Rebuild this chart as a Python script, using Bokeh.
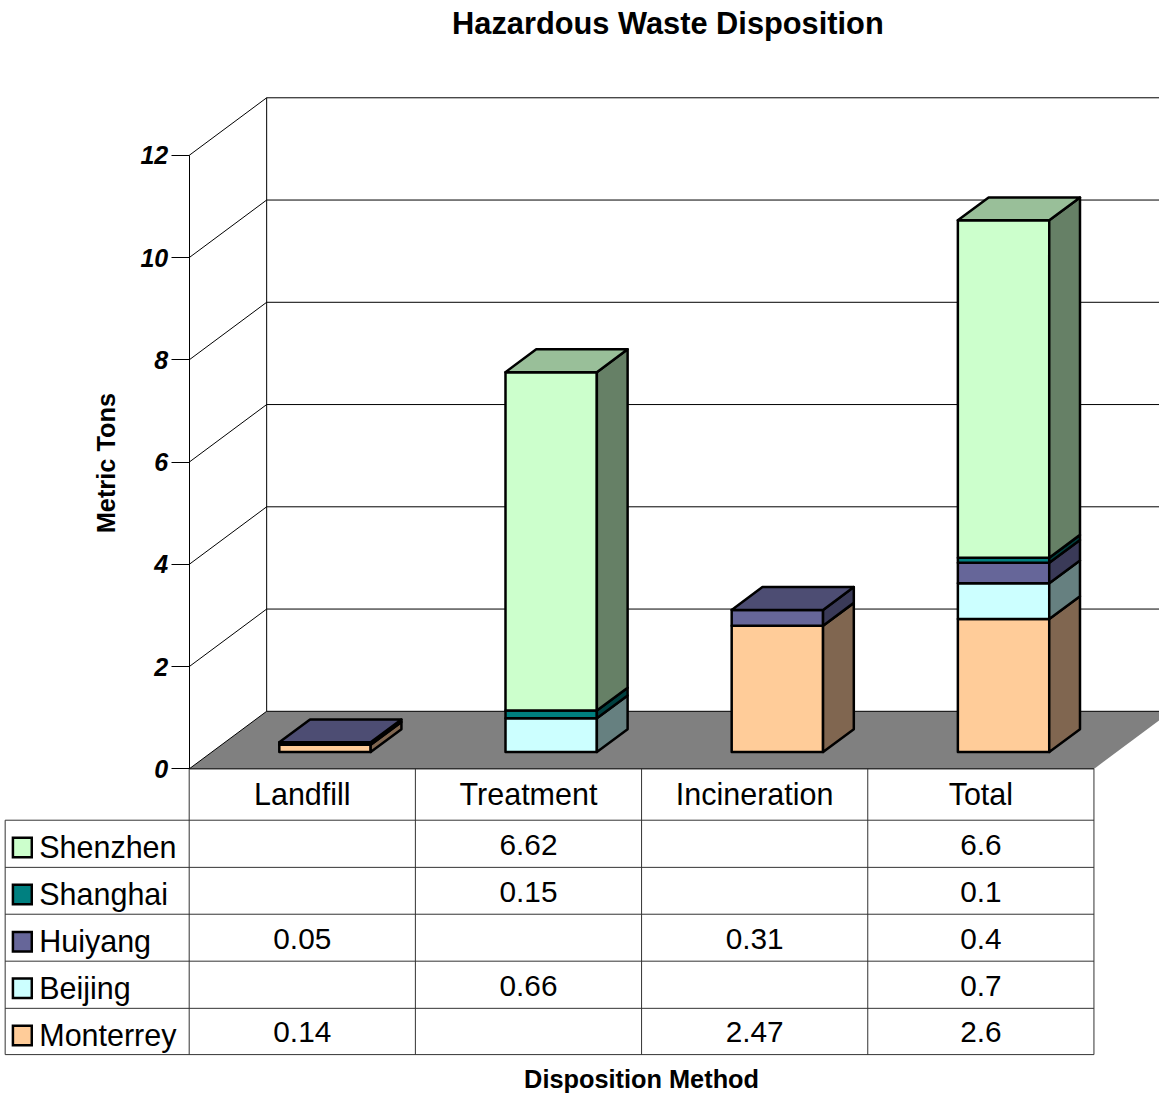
from bokeh.core.properties import value
from bokeh.embed import file_html
from bokeh.models import FixedTicker, LinearAxis, Range1d
from bokeh.plotting import figure
from bokeh.resources import INLINE

# ---- data ----
categories = ["Landfill", "Treatment", "Incineration", "Total"]
shenzhen = [None, 6.62, None, 6.6]
shanghai = [None, 0.15, None, 0.1]
huiyang = [0.05, None, 0.31, 0.4]
beijing = [None, 0.66, None, 0.7]
monterrey = [0.14, None, 2.47, 2.6]
series_names = ["Shenzhen", "Shanghai", "Huiyang", "Beijing", "Monterrey"]
series_values = [shenzhen, shanghai, huiyang, beijing, monterrey]
series_front = ["#CCFFCC", "#008080", "#666699", "#CCFFFF", "#FFCC99"]
series_side = ["#668066", "#004040", "#3A3A58", "#668080", "#806650"]
series_top = ["#99BF99", "#006060", "#4D4D73", "#99BFBF", "#BF9973"]
y_ticks = [0, 2, 4, 6, 8, 10, 12]
title_text = "Hazardous Waste Disposition"
x_title = "Disposition Method"
y_title = "Metric Tons"

# ---- layout (reference pixels, scaled by the ranges to what fits the window) ----
REF_W, REF_H = 1167, 1103
PAGE_MARGIN = 8
W, H = REF_W - PAGE_MARGIN, REF_H - PAGE_MARGIN
SCALE = W / REF_W
PX0, PX_CAT = 190.0, 227.75
PY0, PY_UNIT = 774.0, 51.5
FONT = value("Liberation Sans")
MID = 0.346   # baseline to middle of the em box


def X(px):
    return (px - PX0) / PX_CAT


def Y(py):
    return (PY0 - py) / PY_UNIT


DX = 78 / PX_CAT          # wall depth in category units
DY = 58 / PY_UNIT         # wall depth in value units
HALF = 46 / PX_CAT        # half of a bar's width
D0, D1 = 0.293, 0.69      # bar's front and back in the depth

p = figure(width=W, height=H, output_backend="svg", toolbar_location=None,
           x_range=Range1d(X(0), X(REF_W)), y_range=Range1d(Y(REF_H), Y(0)),
           x_axis_location=None, y_axis_location=None, min_border=0,
           outline_line_color=None, background_fill_color="white")
p.xgrid.visible = False
p.ygrid.visible = False

# floor
n = len(categories)
p.patch([0, n, n + DX, DX], [0, 0, DY, DY], fill_color="#808080", line_color=None)

# walls and grid lines
top = y_ticks[-1]
p.segment(x0=[0] * len(y_ticks), y0=y_ticks, x1=[DX] * len(y_ticks),
          y1=[v + DY for v in y_ticks], line_color="black", line_width=1)
p.segment(x0=[DX] * len(y_ticks), y0=[v + DY for v in y_ticks],
          x1=[n + DX] * len(y_ticks), y1=[v + DY for v in y_ticks],
          line_color="black", line_width=1)
p.segment(x0=[DX], y0=[DY], x1=[DX], y1=[top + DY], line_color="black", line_width=1)

# value axis
axis = LinearAxis(fixed_location=0, ticker=FixedTicker(ticks=y_ticks), bounds=(0, top),
                  major_tick_in=0, major_tick_out=18, minor_tick_out=0, minor_tick_in=0,
                  major_label_standoff=3, major_label_text_font="Liberation Sans",
                  major_label_text_font_size="25px", major_label_text_font_style="bold italic",
                  major_label_text_color="black", axis_line_color="black",
                  major_tick_line_color="black")
p.add_layout(axis, "left")

# bars
xs, ys, fills = [], [], []
for i in range(n):
    base = 0.0
    left = i + 0.5 - HALF
    right = i + 0.5 + HALF
    stack = [k for k in reversed(range(len(series_names))) if series_values[k][i] is not None]
    for k in stack:
        h = series_values[k][i]
        y0, y1 = base, base + h
        xa, xb = left + DX * D0, right + DX * D0
        xc, xd = left + DX * D1, right + DX * D1
        ya, yb = DY * D0, DY * D1
        # front
        xs.append([xa, xb, xb, xa])
        ys.append([y0 + ya, y0 + ya, y1 + ya, y1 + ya])
        fills.append(series_front[k])
        # side
        xs.append([xb, xd, xd, xb])
        ys.append([y0 + ya, y0 + yb, y1 + yb, y1 + ya])
        fills.append(series_side[k])
        if k == stack[-1]:
            xs.append([xa, xb, xd, xc])
            ys.append([y1 + ya, y1 + ya, y1 + yb, y1 + yb])
            fills.append(series_top[k])
        base = y1
p.patches(xs, ys, fill_color=fills, line_color="black", line_width=2.5, line_join="round")

# data table
row_lines = [825.7, 873.2, 920.4, 967.7, 1015.2, 1061.8]
col_lines = [X(4.7)] + list(range(n + 1))
p.segment(x0=[0], y0=[Y(PY0)], x1=[n], y1=[Y(PY0)], line_color="black", line_width=1)
p.segment(x0=[col_lines[0]] * 6, y0=[Y(v) for v in row_lines], x1=[n] * 6,
          y1=[Y(v) for v in row_lines], line_color="#333333", line_width=1)
p.segment(x0=col_lines[1:], y0=[Y(PY0)] * (n + 1), x1=col_lines[1:], y1=[Y(row_lines[-1])] * (n + 1),
          line_color="#333333", line_width=1)
p.segment(x0=[col_lines[0]], y0=[Y(row_lines[0])], x1=[col_lines[0]], y1=[Y(row_lines[-1])],
          line_color="#333333", line_width=1)


def label(x, base, text, size, **kw):
    """Text placed by its baseline in reference pixels, drawn from its middle."""
    p.text(x=x, y=[Y(b - MID * size) for b in base], text=text, text_font=FONT,
           text_font_size=f"{size * SCALE:.2f}px", text_baseline="middle", text_color="black", **kw)


label([i + 0.5 for i in range(n)], [810] * n, categories, 30.7, text_align="center")
val_base = [861.5, 908.8, 955.9, 1003.0, 1049.8]
leg_base = [863.3, 910.7, 958.3, 1005.2, 1052.7]
for k, name in enumerate(series_names):
    cols = [i for i in range(n) if series_values[k][i] is not None]
    label([i + 0.5 for i in cols], [val_base[k]] * len(cols),
          [str(series_values[k][i]) for i in cols], 30, text_align="center")
    label([X(39)], [leg_base[k]], [name], 30.7, text_align="left")
p.quad(left=[X(12.5)] * 5, right=[X(31.5)] * 5,
       bottom=[Y(v - 0.3) for v in leg_base], top=[Y(v - 20) for v in leg_base],
       fill_color=series_front, line_color="black", line_width=2.5, line_join="miter")

# titles
label([X(672)], [34], [title_text], 31, text_font_style="bold", text_align="center")
label([n / 2], [1095.5], [x_title], 25.5, text_font_style="bold", text_align="center")
p.text(x=[X(115 - MID * 25.5)], y=[Y(466)], text=[y_title], text_font=FONT,
       text_font_size=f"{25.5 * SCALE:.2f}px", text_font_style="bold", text_align="center",
       text_baseline="middle", text_color="black", angle=1.5707963267948966)

open("out.html", "w").write(file_html(p, INLINE))
